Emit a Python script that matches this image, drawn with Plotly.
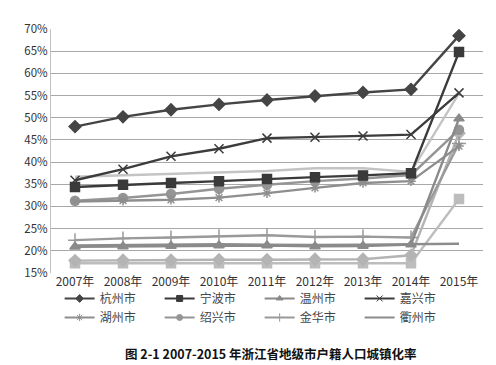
import plotly.graph_objects as go

years = ["2007年", "2008年", "2009年", "2010年", "2011年", "2012年", "2013年", "2014年", "2015年"]

hangzhou = [48.0, 50.2, 51.8, 53.0, 54.0, 54.9, 55.7, 56.4, 68.5]
ningbo = [34.4, 34.9, 35.3, 35.7, 36.2, 36.6, 37.0, 37.5, 64.8]
wenzhou = [20.9, 21.0, 21.1, 21.2, 21.2, 21.0, 21.1, 21.4, 49.8]
jiaxing = [35.9, 38.4, 41.3, 43.0, 45.4, 45.6, 45.9, 46.2, 55.6]
huzhou = [31.1, 31.3, 31.5, 32.0, 33.0, 34.2, 35.3, 35.7, 43.6]
shaoxing = [31.3, 31.9, 32.8, 34.0, 34.9, 35.7, 36.3, 37.1, 47.3]
jinhua = [22.4, 22.8, 23.0, 23.3, 23.5, 23.1, 23.2, 23.0, 44.2]
quzhou = [21.2, 21.3, 21.4, 21.5, 21.4, 21.3, 21.4, 21.5, 21.6]
zhoushan = [36.7, 37.0, 37.3, 37.6, 38.0, 38.6, 38.6, 37.8, 55.5]
taizhou = [17.8, 17.9, 17.9, 18.0, 18.0, 18.1, 18.1, 19.0, 46.5]
lishui = [17.2, 17.2, 17.2, 17.2, 17.2, 17.2, 17.2, 17.2, 31.7]

series = [
    ("杭州市", hangzhou, "#454545", "diamond", 9, True),
    ("宁波市", ningbo, "#3a3a3a", "square", 9, True),
    ("温州市", wenzhou, "#8a8a8a", "triangle-up", 9, True),
    ("嘉兴市", jiaxing, "#3c3c3c", "x-thin-open", 9, True),
    ("湖州市", huzhou, "#8e8e8e", "asterisk-open", 8, True),
    ("绍兴市", shaoxing, "#959595", "circle", 9, True),
    ("金华市", jinhua, "#9a9a9a", "cross-thin-open", 10, True),
    ("衢州市", quzhou, "#8c8c8c", None, 0, True),
    ("舟山市", zhoushan, "#c4c4c4", None, 0, False),
    ("台州市", taizhou, "#b4b4b4", "diamond", 9, False),
    ("丽水市", lishui, "#bdbdbd", "square", 9, False),
]

fig = go.Figure()
for name, vals, color, sym, size, show in reversed(series):
    mode = "lines+markers" if sym else "lines"
    marker = dict(symbol=sym, size=size, color=color, line=dict(color=color, width=1.5)) if sym else None
    fig.add_trace(go.Scatter(
        x=years, y=vals, name=name, mode=mode,
        line=dict(color=color, width=2.4),
        marker=marker, showlegend=False,
    ))

# legend-only entries with small symbols
for name, vals, color, sym, size, show in series:
    if not show:
        continue
    mode = "lines+markers" if sym else "lines"
    marker = dict(symbol=sym, size=6, color=color, line=dict(color=color, width=1)) if sym else None
    fig.add_trace(go.Scatter(
        x=[None], y=[None], name=name, mode=mode,
        line=dict(color=color, width=2.2), marker=marker, showlegend=True,
    ))

fig.update_layout(
    width=496, height=365,
    margin=dict(l=43, r=21, t=12, b=100),
    paper_bgcolor="white", plot_bgcolor="white",
    font=dict(family="Noto Sans CJK SC, Noto Sans, sans-serif", color="#333333"),
    showlegend=True,
    legend=dict(
        orientation="h", traceorder="normal",
        x=0.02, xanchor="left", y=-0.045, yanchor="top",
        entrywidth=55, itemwidth=30,
        font=dict(size=12, color="#444444"),
        tracegroupgap=0, bgcolor="rgba(0,0,0,0)",
    ),
    xaxis=dict(
        type="category", range=[-0.5, 8.5],
        showgrid=False, zeroline=False,
        showline=False, ticks="",
        tickfont=dict(size=12, color="#333333"),
    ),
    yaxis=dict(
        range=[15, 70], dtick=5, ticksuffix="%",
        showgrid=True, gridcolor="#a8a8a8", gridwidth=1,
        zeroline=False, showline=True, linecolor="#c0c0c0", linewidth=1,
        ticks="", tickfont=dict(size=11.5, color="#333333"),
    ),
    annotations=[dict(
        text="<b>图 2-1 2007-2015 年浙江省地级市户籍人口城镇化率</b>",
        xref="paper", yref="paper", x=0.509, y=-0.33,
        xanchor="center", yanchor="middle", showarrow=False,
        font=dict(size=12.5, color="#111111", family="Noto Sans CJK SC"),
    )],
)

fig.write_html("out.html")
